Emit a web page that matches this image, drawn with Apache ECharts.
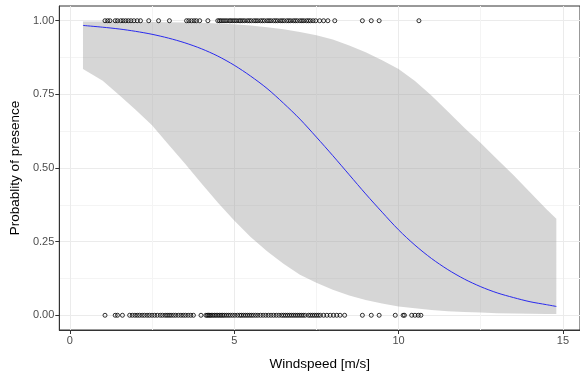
<!DOCTYPE html>
<html>
<head>
<meta charset="utf-8">
<script src="https://cdn.jsdelivr.net/npm/echarts@6/dist/echarts.min.js"></script>
<style>
  html, body { margin: 0; padding: 0; background: #fff; }
  #chart { width: 580px; height: 376px; }
</style>
</head>
<body>
<div id="chart"></div>
<script>
// fitted curve + 95% band
const windGrid = [0.4, 1, 1.5, 2, 2.5, 3, 3.5, 4, 4.5, 5, 5.5, 6, 6.5, 7, 7.5, 8, 8.5, 9, 9.5, 10, 10.5, 11, 11.5, 12, 12.5, 13, 13.5, 14, 14.5, 14.8]
const fitProb = [0.984, 0.978, 0.972, 0.964, 0.954, 0.941, 0.925, 0.905, 0.880, 0.849, 0.812, 0.770, 0.720, 0.666, 0.605, 0.542, 0.477, 0.412, 0.350, 0.290, 0.238, 0.193, 0.155, 0.123, 0.097, 0.076, 0.060, 0.046, 0.036, 0.030]
const upperCI = [0.997, 0.997, 0.997, 0.996, 0.996, 0.995, 0.994, 0.993, 0.991, 0.988, 0.984, 0.978, 0.971, 0.962, 0.951, 0.936, 0.916, 0.893, 0.866, 0.836, 0.795, 0.746, 0.692, 0.637, 0.585, 0.530, 0.475, 0.418, 0.360, 0.328]
const lowerCI = [0.836, 0.796, 0.748, 0.698, 0.645, 0.580, 0.515, 0.448, 0.383, 0.322, 0.266, 0.217, 0.175, 0.138, 0.110, 0.087, 0.067, 0.052, 0.040, 0.030, 0.024, 0.018, 0.014, 0.011, 0.009, 0.007, 0.006, 0.005, 0.004, 0.004]

// observations: windspeed where the species was present (1) / absent (0)
const presentWind = [1.07, 1.15, 1.22, 1.38, 1.45, 1.55, 1.62, 1.7, 1.78, 1.86, 1.95, 2.05, 2.15, 2.4, 2.7, 3.03, 3.55, 3.62, 3.7, 3.78, 3.85, 3.95, 4.2, 4.5, 4.55, 4.6, 4.66, 4.72, 4.78, 4.85, 4.9, 4.96, 5.02, 5.08, 5.15, 5.2, 5.26, 5.32, 5.4, 5.46, 5.52, 5.6, 5.66, 5.72, 5.8, 5.86, 5.92, 6.0, 6.06, 6.12, 6.2, 6.26, 6.32, 6.4, 6.46, 6.52, 6.6, 6.66, 6.72, 6.8, 6.86, 6.92, 7.0, 7.06, 7.12, 7.2, 7.26, 7.32, 7.4, 7.48, 7.6, 7.72, 7.85, 8.06, 8.9, 9.17, 9.41, 10.62]
const absentWind = [1.07, 1.38, 1.45, 1.6, 1.82, 1.9, 1.98, 2.05, 2.12, 2.2, 2.27, 2.35, 2.42, 2.5, 2.58, 2.66, 2.75, 2.82, 2.9, 2.96, 3.02, 3.08, 3.15, 3.22, 3.3, 3.38, 3.45, 3.52, 3.6, 3.68, 3.76, 3.99, 4.14, 4.18, 4.22, 4.26, 4.3, 4.35, 4.4, 4.45, 4.5, 4.55, 4.6, 4.65, 4.7, 4.76, 4.82, 4.88, 4.95, 5.02, 5.1, 5.17, 5.22, 5.28, 5.34, 5.4, 5.46, 5.52, 5.58, 5.65, 5.72, 5.8, 5.88, 5.96, 6.04, 6.12, 6.2, 6.28, 6.36, 6.44, 6.5, 6.56, 6.62, 6.68, 6.74, 6.8, 6.86, 6.92, 6.98, 7.04, 7.1, 7.16, 7.26, 7.32, 7.38, 7.44, 7.5, 7.56, 7.62, 7.72, 7.82, 7.92, 8.02, 8.12, 8.22, 8.36, 8.9, 9.17, 9.41, 9.9, 10.14, 10.18, 10.4, 10.5, 10.6, 10.68]

const xTicks = [0, 5, 10, 15]
const xMinor = [2.5, 7.5, 12.5]
const yTicks = [0, 0.25, 0.5, 0.75, 1]
const yMinor = [0.125, 0.375, 0.625, 0.875]

const font = 'Liberation Sans, Arial, sans-serif'
const xRange = { min: -0.32, max: 15.52 }
const yRange = { min: -0.05, max: 1.05 }

let chart = echarts.init(document.getElementById('chart'), null, { renderer: 'canvas' })

// band polygon: upper edge left->right, then lower edge right->left
function renderBand(params, api) {
  let pts = []
  for (let i = 0; i < windGrid.length; i++) pts.push(api.coord([windGrid[i], upperCI[i]]))
  for (let i = windGrid.length - 1; i >= 0; i--) pts.push(api.coord([windGrid[i], lowerCI[i]]))
  return {
    type: 'polygon',
    shape: { points: pts },
    style: { fill: 'rgba(153,153,153,0.4)' }
  }
}

let option = {
  animation: false,
  backgroundColor: '#fff',
  grid: {
    left: 57, top: 6, width: 526, bottom: 39,
    show: true, borderColor: '#333', borderWidth: 1, backgroundColor: 'transparent'
  },
  xAxis: [
    {
      type: 'value', min: xRange.min, max: xRange.max,
      name: 'Windspeed [m/s]', nameLocation: 'middle', nameGap: 27,
      nameTextStyle: { color: '#000', fontSize: 13.5, fontFamily: font },
      axisLine: { onZero: false, lineStyle: { color: '#333' } },
      axisTick: { length: 4, customValues: xTicks, lineStyle: { color: '#333' } },
      axisLabel: { customValues: xTicks, color: '#4d4d4d', fontSize: 11, fontFamily: font, margin: 5 },
      splitLine: { show: true, lineStyle: { color: '#ebebeb', width: 1 } }
    },
    {
      type: 'value', min: xRange.min, max: xRange.max, position: 'top',
      axisLine: { show: false },
      axisTick: { show: false, customValues: xMinor },
      axisLabel: { show: false },
      splitLine: { show: true, lineStyle: { color: '#f4f4f4', width: 1 } }
    }
  ],
  yAxis: [
    {
      type: 'value', min: yRange.min, max: yRange.max,
      name: 'Probablity of presence', nameLocation: 'middle', nameGap: 37,
      nameTextStyle: { color: '#000', fontSize: 13.5, fontFamily: font },
      axisLine: { show: true, onZero: false, lineStyle: { color: '#333' } },
      axisTick: { show: true, length: 4, customValues: yTicks, lineStyle: { color: '#333' } },
      axisLabel: {
        customValues: yTicks, color: '#4d4d4d', fontSize: 11, fontFamily: font, margin: 5,
        formatter: v => v.toFixed(2)
      },
      splitLine: { show: true, lineStyle: { color: '#ebebeb', width: 1 } }
    },
    {
      type: 'value', min: yRange.min, max: yRange.max, position: 'right',
      axisLine: { show: false },
      axisTick: { show: false, customValues: yMinor },
      axisLabel: { show: false },
      splitLine: { show: true, lineStyle: { color: '#f4f4f4', width: 1 } }
    }
  ],
  series: [
    {
      type: 'custom', silent: true,
      renderItem: renderBand,
      data: [[windGrid[0], upperCI[0]]],
      encode: { x: 0, y: 1 }
    },
    {
      type: 'scatter', symbol: 'circle', symbolSize: 4,
      data: presentWind.map(x => [x, 1]),
      itemStyle: { color: 'rgba(0,0,0,0)', borderColor: '#000', borderWidth: 1 }
    },
    {
      type: 'scatter', symbol: 'circle', symbolSize: 4,
      data: absentWind.map(x => [x, 0]),
      itemStyle: { color: 'rgba(0,0,0,0)', borderColor: '#000', borderWidth: 1 }
    },
    {
      type: 'line', symbol: 'none', smooth: 0.3,
      data: windGrid.map((x, i) => [x, fitProb[i]]),
      lineStyle: { color: '#2a2aee', width: 1 }
    }
  ]
}

chart.setOption(option)
</script>
</body>
</html>
